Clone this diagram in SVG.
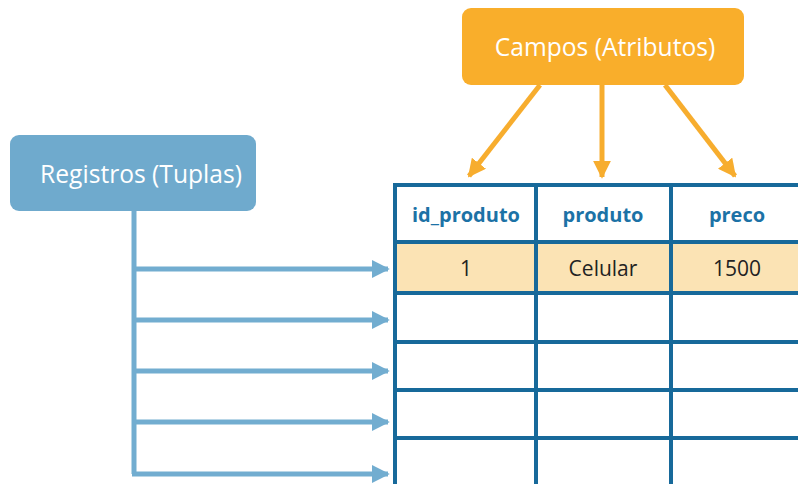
<svg xmlns="http://www.w3.org/2000/svg" width="798" height="484" viewBox="0 0 798 484">
<defs>
<style>
.lbl{font-family:"Open Sans","Liberation Sans",sans-serif;fill:#fff;font-size:24.6px;text-anchor:middle}
.hdr{font-family:"Open Sans","Liberation Sans",sans-serif;fill:#1C72A6;font-size:20px;font-weight:bold;text-anchor:middle}
.cell{font-family:"Open Sans","Liberation Sans",sans-serif;fill:#222;font-size:21px;text-anchor:middle}
.grid{stroke:#17699A;stroke-width:4;fill:none}
.oarr{stroke:#F7AD2E;stroke-width:5;fill:none}
.barr{stroke:#72ADD0;stroke-width:5;fill:none}
</style>
<marker id="ho" viewBox="0 0 10 10" refX="9" refY="5" markerWidth="3.6" markerHeight="3.6" orient="auto" markerUnits="strokeWidth">
<path d="M0,0 L10,5 L0,10 Z" fill="#F7AD2E"/>
</marker>
<marker id="hb" viewBox="0 0 10 10" refX="9" refY="5" markerWidth="3.6" markerHeight="4.2" orient="auto" markerUnits="strokeWidth">
<path d="M0,0 L10,5 L0,10 Z" fill="#72ADD0"/>
</marker>
</defs>
<rect width="798" height="484" fill="#fff"/>

<g id="table">
<rect x="395" y="242" width="405" height="51" fill="#FBE3B4"/>
<path class="grid" d="M395,487 V185 H800 M536,185 V487 M671,185 V487 M395,242 H800 M395,293 H800 M395,342 H800 M395,390 H800 M395,438 H800"/>
<text class="hdr" x="466" y="222">id_produto</text>
<text class="hdr" x="603" y="222">produto</text>
<text class="hdr" x="737" y="222">preco</text>
<text class="cell" x="466" y="276">1</text>
<text class="cell" x="603" y="276">Celular</text>
<text class="cell" x="737" y="276">1500</text>
</g>

<g id="campos">
<rect x="462" y="8" width="282" height="77" rx="9" fill="#F9AE2B"/>
<text class="lbl" x="605" y="56" font-size="25.8">Campos (Atributos)</text>
</g>

<g id="registros">
<rect x="10" y="135" width="246" height="76" rx="9" fill="#6FAACD"/>
<text class="lbl" x="141" y="183">Registros (Tuplas)</text>
</g>

<g id="connectors">
<line class="oarr" x1="540" y1="85" x2="469" y2="176" marker-end="url(#ho)"/>
<line class="oarr" x1="602" y1="85" x2="602" y2="177" marker-end="url(#ho)"/>
<line class="oarr" x1="665" y1="85" x2="735" y2="176" marker-end="url(#ho)"/>
<path class="barr" d="M134,211 V474"/>
<line class="barr" x1="132" y1="269" x2="388" y2="269" marker-end="url(#hb)"/>
<line class="barr" x1="132" y1="320" x2="388" y2="320" marker-end="url(#hb)"/>
<line class="barr" x1="132" y1="371" x2="388" y2="371" marker-end="url(#hb)"/>
<line class="barr" x1="132" y1="422" x2="388" y2="422" marker-end="url(#hb)"/>
<line class="barr" x1="132" y1="474" x2="388" y2="474" marker-end="url(#hb)"/>
</g>
</svg>
